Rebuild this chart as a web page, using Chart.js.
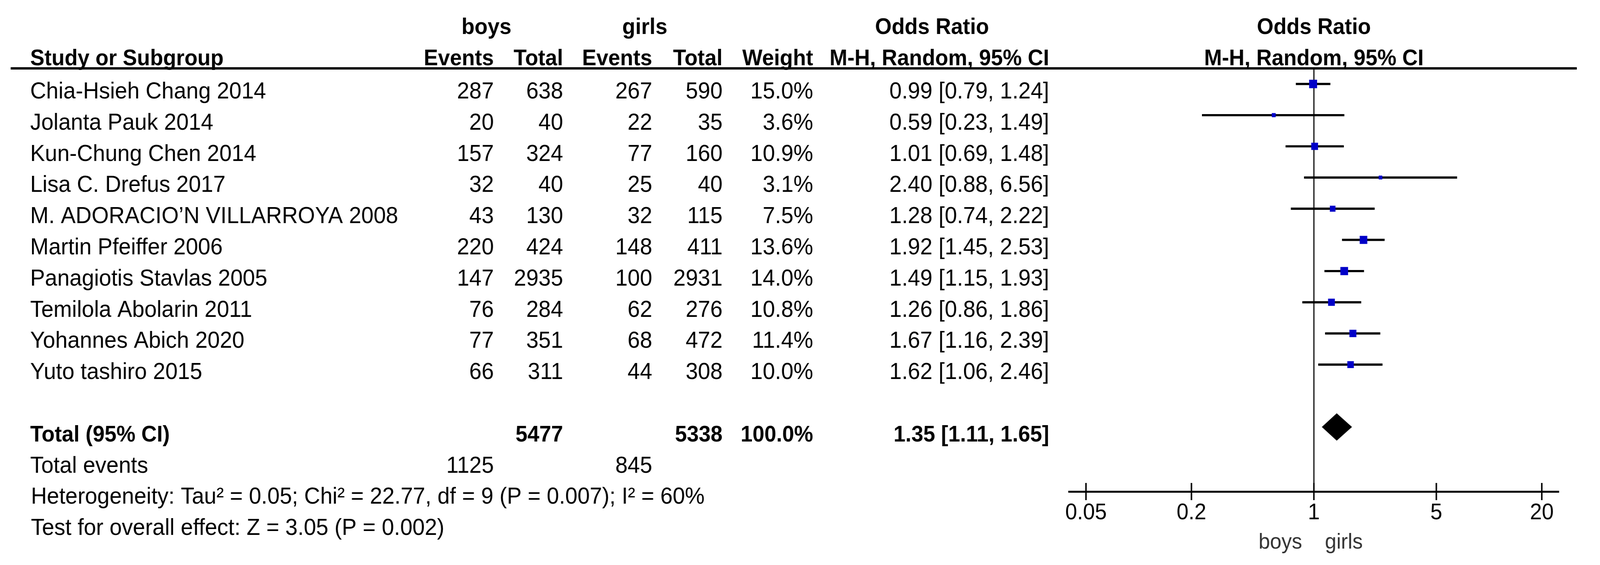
<!DOCTYPE html>
<html>
<head>
<meta charset="utf-8">
<script src="https://cdn.jsdelivr.net/npm/chart.js@4.4.1/dist/chart.umd.min.js"></script>
<style>
    html, body { margin: 0; padding: 0; background: #fff; overflow: hidden; }
    /* keep the 4345x1446 drawing exactly filling the window */
    #forest { display: block; width: 100vw !important; height: 100vh !important; }
</style>
</head>
<body>
<canvas id="forest" width="4345" height="1446"></canvas>
<script>
// Study data
const studies = [
    'Chia-Hsieh Chang 2014',
    'Jolanta Pauk 2014',
    'Kun-Chung Chen 2014',
    'Lisa C. Drefus 2017',
    'M. ADORACIO\u2019N VILLARROYA 2008',
    'Martin Pfeiffer 2006',
    'Panagiotis Stavlas 2005',
    'Temilola Abolarin 2011',
    'Yohannes Abich 2020',
    'Yuto tashiro 2015'
];
const boysEvents = [287, 20, 157, 32, 43, 220, 147, 76, 77, 66];
const boysTotal = [638, 40, 324, 40, 130, 424, 2935, 284, 351, 311];
const girlsEvents = [267, 22, 77, 25, 32, 148, 100, 62, 68, 44];
const girlsTotal = [590, 35, 160, 40, 115, 411, 2931, 276, 472, 308];
const weights = [15.0, 3.6, 10.9, 3.1, 7.5, 13.6, 14.0, 10.8, 11.4, 10.0];
const oddsRatio = [0.99, 0.59, 1.01, 2.40, 1.28, 1.92, 1.49, 1.26, 1.67, 1.62];
const ciLow = [0.79, 0.23, 0.69, 0.88, 0.74, 1.45, 1.15, 0.86, 1.16, 1.06];
const ciHigh = [1.24, 1.49, 1.48, 6.56, 2.22, 2.53, 1.93, 1.86, 2.39, 2.46];

// Pooled result
const pooled = [1.35, 1.11, 1.65];        // estimate, low, high
const totalParticipants = [5477, 5338];   // boys, girls
const totalEvents = [1125, 845];          // boys, girls
const footnotes = [
    'Heterogeneity: Tau\u00b2 = 0.05; Chi\u00b2 = 22.77, df = 9 (P = 0.007); I\u00b2 = 60%',
    'Test for overall effect: Z = 3.05 (P = 0.002)'
];
const xTicks = [0.05, 0.2, 1, 5, 20];

const FONT = '"Liberation Sans", Arial, sans-serif';
const fmt2 = v => v.toFixed(2);
const ciText = (e, l, h) => `${fmt2(e)} [${fmt2(l)}, ${fmt2(h)}]`;

// column anchors (right edge for numbers)
const col = { name: 82, bEv: 1341, bTot: 1529, gEv: 1771, gTot: 1962, wt: 2208, or: 2849 };

function text(ctx, s, x, y, align, bold) {
    ctx.font = (bold ? 'bold 58px ' : '60px ') + FONT;
    ctx.textAlign = align;
    ctx.fillText(String(s), x, y);
}

const tablePlugin = {
    id: 'forestTable',
    beforeDatasetsDraw(chart) {
        const { ctx, chartArea, scales: { x } } = chart;
        // line of no effect
        ctx.save();
        ctx.strokeStyle = '#333';
        ctx.lineWidth = 4;
        const x1 = x.getPixelForValue(1);
        ctx.beginPath();
        ctx.moveTo(x1, chartArea.top);
        ctx.lineTo(x1, chartArea.bottom);
        ctx.stroke();
        ctx.restore();
    },
    afterDatasetsDraw(chart) {
        const { ctx, chartArea, scales: { x, y } } = chart;
        ctx.save();

        // pooled diamond
        const dy = y.getPixelForValue(studies.length + 1);
        ctx.fillStyle = '#000';
        ctx.beginPath();
        ctx.moveTo(x.getPixelForValue(pooled[1]), dy);
        ctx.lineTo(x.getPixelForValue(pooled[0]), dy - 35);
        ctx.lineTo(x.getPixelForValue(pooled[2]), dy);
        ctx.lineTo(x.getPixelForValue(pooled[0]), dy + 35);
        ctx.closePath();
        ctx.fill();

        // tick marks across the axis line
        ctx.strokeStyle = '#000';
        ctx.lineWidth = 4;
        xTicks.forEach(v => {
            const px = x.getPixelForValue(v);
            ctx.beginPath();
            ctx.moveTo(px, chartArea.bottom - 22);
            ctx.lineTo(px, chartArea.bottom + 22);
            ctx.stroke();
        });

        // header rule
        ctx.lineWidth = 6;
        ctx.beginPath();
        ctx.moveTo(29, chartArea.top);
        ctx.lineTo(4282, chartArea.top);
        ctx.stroke();

        ctx.fillStyle = '#000';
        ctx.textBaseline = 'alphabetic';
        const mid = (chartArea.left + chartArea.right) / 2;

        // headers
        const h1 = y.getPixelForValue(-2) + 32;
        const h2 = y.getPixelForValue(-1) + 32;
        text(ctx, 'boys', 1321, h1, 'center', true);
        text(ctx, 'girls', 1751, h1, 'center', true);
        text(ctx, 'Odds Ratio', 2531, h1, 'center', true);
        text(ctx, 'Odds Ratio', mid, h1, 'center', true);
        text(ctx, 'Study or Subgroup', col.name, h2, 'left', true);
        text(ctx, 'Events', col.bEv, h2, 'right', true);
        text(ctx, 'Total', col.bTot, h2, 'right', true);
        text(ctx, 'Events', col.gEv, h2, 'right', true);
        text(ctx, 'Total', col.gTot, h2, 'right', true);
        text(ctx, 'Weight', col.wt, h2, 'right', true);
        text(ctx, 'M-H, Random, 95% CI', col.or, h2, 'right', true);
        text(ctx, 'M-H, Random, 95% CI', mid, h2, 'center', true);

        // study rows
        studies.forEach((s, i) => {
            const by = y.getPixelForValue(i) + 37;
            text(ctx, s, col.name, by, 'left');
            text(ctx, boysEvents[i], col.bEv, by, 'right');
            text(ctx, boysTotal[i], col.bTot, by, 'right');
            text(ctx, girlsEvents[i], col.gEv, by, 'right');
            text(ctx, girlsTotal[i], col.gTot, by, 'right');
            text(ctx, weights[i].toFixed(1) + '%', col.wt, by, 'right');
            text(ctx, ciText(oddsRatio[i], ciLow[i], ciHigh[i]), col.or, by, 'right');
        });

        // total rows
        const n = studies.length;
        let by = y.getPixelForValue(n + 1) + 37;
        text(ctx, 'Total (95% CI)', col.name, by, 'left', true);
        text(ctx, totalParticipants[0], col.bTot, by, 'right', true);
        text(ctx, totalParticipants[1], col.gTot, by, 'right', true);
        const wSum = weights.reduce((a, b) => a + b, 0);
        text(ctx, Math.round(wSum).toFixed(1) + '%', col.wt, by, 'right', true);
        text(ctx, ciText(pooled[0], pooled[1], pooled[2]), col.or, by, 'right', true);

        by = y.getPixelForValue(n + 2) + 37;
        text(ctx, 'Total events', col.name, by, 'left');
        text(ctx, totalEvents[0], col.bEv, by, 'right');
        text(ctx, totalEvents[1], col.gEv, by, 'right');

        footnotes.forEach((f, k) => {
            text(ctx, f, 84, y.getPixelForValue(n + 3 + k) + 37, 'left');
        });

        // favours labels under the axis
        const x1 = x.getPixelForValue(1);
        ctx.fillStyle = '#333';
        ctx.font = '56px ' + FONT;
        ctx.textAlign = 'right';
        ctx.fillText('boys', x1 - 32, 1404);
        ctx.textAlign = 'left';
        ctx.fillText('girls', x1 + 30, 1404);

        ctx.restore();
    }
};

const ctx = document.getElementById('forest').getContext('2d');
const forestChart = new Chart(ctx, {
    type: 'bar',
    data: {
        datasets: [
            {
                type: 'scatter',
                order: 0,
                data: studies.map((s, i) => ({ x: oddsRatio[i], y: i })),
                pointStyle: 'rect',
                pointRadius: weights.map(w => 5.6 * Math.sqrt(w) / Math.SQRT2),
                pointBackgroundColor: '#0000c8',
                pointBorderWidth: 0,
                pointHoverRadius: 0
            },
            {
                type: 'bar',
                order: 1,
                data: studies.map((s, i) => ({ x: [ciLow[i], ciHigh[i]], y: i })),
                backgroundColor: '#000',
                borderWidth: 0,
                barThickness: 5
            }
        ]
    },
    options: {
        indexAxis: 'y',
        responsive: false,
        devicePixelRatio: 1,
        animation: false,
        events: [],
        layout: { padding: { left: 2903, right: 112, top: 175, bottom: 0 } },
        plugins: {
            legend: { display: false },
            tooltip: { enabled: false }
        },
        scales: {
            x: {
                type: 'logarithmic',
                position: 'bottom',
                min: 0.04,
                max: 25,
                afterBuildTicks: scale => {
                    scale.ticks = xTicks.map(v => ({ value: v }));
                },
                afterFit: scale => { scale.height = 188; },
                ticks: {
                    autoSkip: false,
                    maxRotation: 0,
                    padding: 20,
                    color: '#000',
                    font: { family: FONT, size: 58 },
                    callback: value => String(value)
                },
                grid: { display: false, drawTicks: false },
                border: { display: true, color: '#000', width: 5 }
            },
            y: {
                type: 'linear',
                display: false,
                offset: false,
                grace: 0,
                reverse: true,
                min: -0.5,
                max: 13.07
            }
        }
    },
    plugins: [tablePlugin]
});
</script>
</body>
</html>
